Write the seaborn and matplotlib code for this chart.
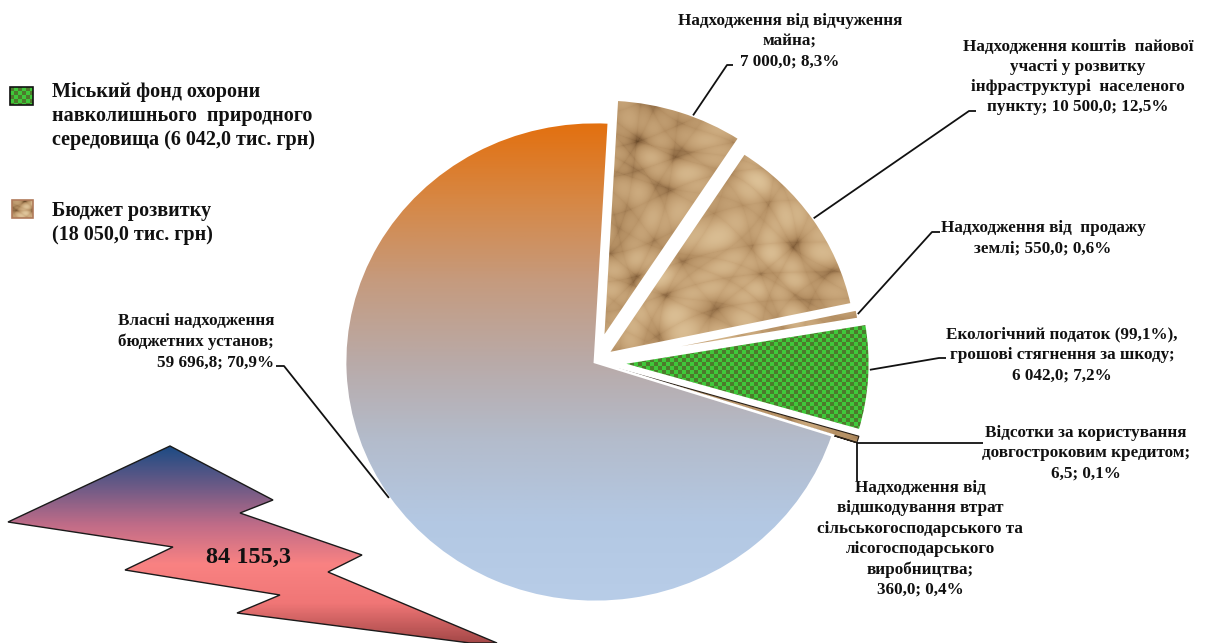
import numpy as np
import matplotlib
matplotlib.use("Agg")
import matplotlib.pyplot as plt
import seaborn as sns
from matplotlib.patches import Polygon, Rectangle

# ---------------- data ----------------
categories = [
    "Надходження від відчуження майна",
    "Надходження коштів пайової участі у розвитку інфраструктурі населеного пункту",
    "Надходження від продажу землі",
    "Екологічний податок (99,1%), грошові стягнення за шкоду",
    "Надходження від відшкодування втрат сільськогосподарського та лісогосподарського виробництва",
    "Відсотки за користування довгостроковим кредитом",
    "Власні надходження бюджетних установ",
]
values = [7000.0, 10500.0, 550.0, 6042.0, 360.0, 6.5, 59696.8]
value_text = ["7 000,0", "10 500,0", "550,0", "6 042,0", "360,0", "6,5", "59 696,8"]
percent_text = ["8,3%", "12,5%", "0,6%", "7,2%", "0,4%", "0,1%", "70,9%"]
label_heads = [
    "Надходження від відчуження\nмайна;\n",
    "Надходження коштів  пайової\nучасті у розвитку\nінфраструктурі  населеного\nпункту; ",
    "Надходження від  продажу\nземлі; ",
    "Екологічний податок (99,1%),\nгрошові стягнення за шкоду;\n",
    "Надходження від\nвідшкодування втрат\nсільськогосподарського та\nлісогосподарського\nвиробництва;\n",
    "Відсотки за користування\nдовгостроковим кредитом;\n",
    "Власні надходження\nбюджетних установ;\n",
]
legend_labels = [
    "Міський фонд охорони\nнавколишнього  природного\nсередовища (6 042,0 тис. грн)",
    "Бюджет розвитку\n(18 050,0 тис. грн)",
]
total_text = "84 155,3"

# ---------------- style ----------------
sns.set_theme(style="white")
plt.rcParams["font.family"] = ["Liberation Serif", "DejaVu Serif"]
plt.rcParams["font.weight"] = "bold"

W, H = 1205, 643
fig = plt.figure(figsize=(W / 100, H / 100), dpi=100)
fig.patch.set_facecolor("white")

# pie axes (unit radius -> 250 px horizontally, 240 px vertically)
CX, CY, RX, RY = 595, 362, 250, 240
ax = fig.add_axes([0, 0, 1, 1])
explode = [0.1, 0.06, 0.07, 0.1, 0.1, 0.1, 0.0]
wedges, _ = ax.pie(values, explode=explode, startangle=86.8, counterclock=False,
                   radius=1.0, center=(0, 0),
                   wedgeprops=dict(linewidth=1.2, edgecolor="white"))
ax.set_aspect("auto")
ax.axis("off")

# overlay axes in pixel coordinates
ax2 = fig.add_axes([0, 0, 1, 1], facecolor="none")
ax2.axis("off")

def set_limits():
    ax.set_xlim(-CX / RX, (W - CX) / RX)
    ax.set_ylim(-(H - CY) / RY, CY / RY)
    ax2.set_xlim(0, W)
    ax2.set_ylim(H, 0)

set_limits()

def to_px(x, y):
    d = ax.transData.transform((x, y))
    return ax2.transData.inverted().transform(d)

# ---------- fill textures ----------
ext = (-1.3, 1.3, -1.3, 1.3)
ny, nx = int(2.6 * RY), int(2.6 * RX)
yy, xx = np.mgrid[0:ny, 0:nx].astype(float)

# crumpled paper look (deterministic creases)
wx = xx + 9 * np.sin(yy * 0.031) + 6 * np.sin(xx * 0.047 + 1.3)
wy = yy + 8 * np.cos(xx * 0.027) + 5 * np.sin(yy * 0.052 + 0.7)
dirs = [(0.9, 0.3, 0.071, 0.0), (-0.4, 1.0, 0.063, 1.1), (0.6, -0.8, 0.083, 2.3),
        (1.0, 0.9, 0.049, 0.4), (-0.9, 0.5, 0.057, 3.0), (0.2, 1.0, 0.091, 1.7)]
t = np.zeros_like(xx)
for dx, dy, k, ph in dirs:
    t += np.abs(np.sin(k * (dx * wx + dy * wy) + ph)) ** 0.6
t += 0.6 * np.sin(xx * 0.013 + yy * 0.009)
t = (t - t.min()) / (t.max() - t.min())
paper_cmap = sns.blend_palette(["#4e3419", "#8a6640", "#b38e62", "#c9a77b", "#e0c69c"], as_cmap=True)

cell = 4
checker = ((xx // cell + yy // cell) % 2)
checker_cmap = sns.blend_palette(["#4d7a2c", "#3fc83a"], as_cmap=True)

grad = np.linspace(0, 1, 400)[:, None] * np.ones((1, 10))
grad_cmap = sns.blend_palette(["#e3700f", "#d68846", "#c59b7f", "#b9aaa8", "#b3bccc",
                               "#b3c8e3", "#b8cde8"], as_cmap=True)

fills = ["paper", "paper", "paper", "checker", "paper", "paper", "grad"]
for w, f in zip(wedges, fills):
    w.set_facecolor("none")
    w.set_zorder(3)
    w.set_linewidth(2.0)
    if f == "paper":
        im = ax.imshow(t, extent=ext, origin="upper", cmap=paper_cmap, aspect="auto",
                       interpolation="bilinear", zorder=2)
    elif f == "checker":
        im = ax.imshow(checker, extent=ext, origin="upper", cmap=checker_cmap, aspect="auto",
                       interpolation="nearest", zorder=2)
    else:
        im = ax.imshow(grad, extent=(-1.1, 1.1, -1.0, 1.0), origin="upper", cmap=grad_cmap,
                       aspect="auto", interpolation="bilinear", zorder=2)
    im.set_clip_path(w)
for i in (4, 5):
    wedges[i].set_edgecolor("#2a2118")
    wedges[i].set_linewidth(0.8)
set_limits()

# ---------- labels ----------
label_pos = [(790, 41, "center", "center"),
             (1078, 77, "center", "center"),
             (1043, 238, "center", "center"),
             (1062, 355, "center", "center"),
             (920, 539, "center", "center"),
             (1086, 453, "center", "center"),
             (274, 342, "right", "right")]
anchor_frac = [0.4, 0.5, 0.5, 0.57, 0.0, 0.0, 0.5]
# leader start points; None in a coordinate means "follow the anchor" (straight leader)
leader_start = [[(733, 65), (727, 65)],
                [(976, 111), (969, 111)],
                [(940, 232), (932, 232)],
                [(946, 358), (939, 358)],
                [(None, 481)],
                [(983, None)],
                [(276, 366), (284, 366)]]

for i, w in enumerate(wedges):
    txt = label_heads[i] + value_text[i] + "; " + percent_text[i]
    x, y, ha, ma = label_pos[i]
    ax2.text(x, y, txt, ha=ha, va="center", multialignment=ma, fontsize=12.3,
             fontweight="bold", linespacing=1.35, color="#111111", zorder=6)
    th1, th2 = w.theta1, w.theta2
    a = np.deg2rad(th1 + anchor_frac[i] * (th2 - th1))
    cx, cy = w.center
    ap = to_px(cx + w.r * np.cos(a), cy + w.r * np.sin(a))
    pts = [(ap[0] if px is None else px, ap[1] if py is None else py)
           for px, py in leader_start[i]] + [tuple(ap)]
    ax2.plot([p[0] for p in pts], [p[1] for p in pts], color="#111111", lw=1.3,
             zorder=6, solid_capstyle="butt")

# ---------- lightning with total ----------
bolt = [(170, 446), (273, 500), (240, 513), (362, 555), (328, 572), (497, 643),
        (470, 643), (237, 613), (280, 595), (125, 570), (173, 547), (8, 522)]
bolt_cmap = sns.blend_palette(["#1d4b84", "#6b5a86", "#c06c88", "#f98282", "#f07676", "#a54848"],
                              as_cmap=True)
bgrad = np.linspace(0, 1, 300)[:, None] * np.ones((1, 10))
poly = Polygon(bolt, closed=True, facecolor="none", edgecolor="#1a1a1a", lw=1.0, zorder=5)
ax2.add_patch(poly)
bim = ax2.imshow(bgrad, extent=(0, 500, 643, 446), origin="upper", cmap=bolt_cmap,
                 aspect="auto", interpolation="bilinear", zorder=4)
bim.set_clip_path(poly)
ax2.text(248, 557, total_text, ha="center", va="center", fontsize=17.5,
         fontweight="bold", color="#111111", zorder=6)

# ---------- legend (drawn by hand to keep patterned keys) ----------
key_boxes = [(10, 87, 23, 18), (12, 200, 21, 18)]
key_fill = [("checker", checker_cmap), ("paper", paper_cmap)]
text_centers = [116, 223]
for (kx, ky, kw, kh), (kind, cmap), lab, yc in zip(key_boxes, key_fill, legend_labels, text_centers):
    rect = Rectangle((kx, ky), kw, kh, facecolor="none",
                     edgecolor="#111111" if kind == "checker" else "#b07a5a", lw=1.2, zorder=6)
    ax2.add_patch(rect)
    arr = checker[:kh, :kw] if kind == "checker" else t[200:200 + kh * 3, 300:300 + kw * 3]
    kim = ax2.imshow(arr, extent=(kx, kx + kw, ky + kh, ky), origin="upper", cmap=cmap,
                     aspect="auto", interpolation="nearest" if kind == "checker" else "bilinear",
                     zorder=5)
    kim.set_clip_path(rect)
    ax2.text(52, yc, lab, ha="left", va="center", fontsize=14.5, fontweight="bold",
             linespacing=1.26, color="#111111", zorder=6)

set_limits()
fig.savefig("out.png", dpi=100, facecolor="white")
